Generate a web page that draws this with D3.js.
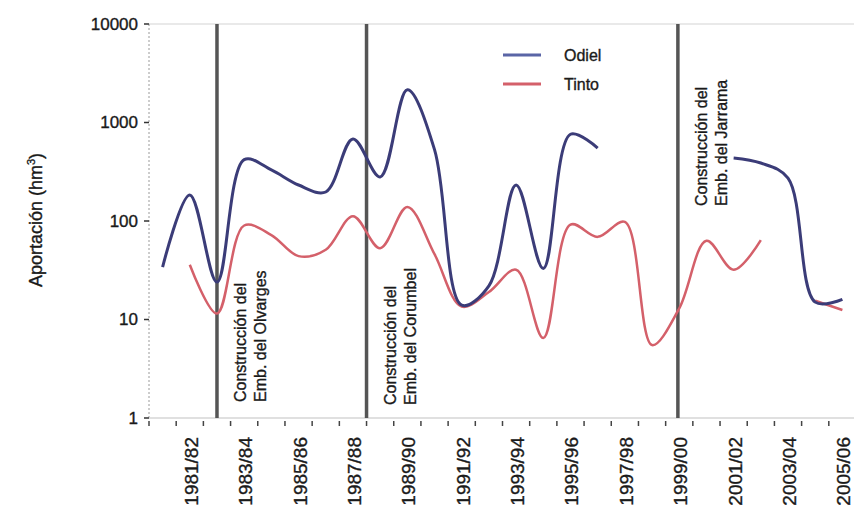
<!DOCTYPE html>
<html>
<head>
<meta charset="utf-8">
<script src="https://cdn.jsdelivr.net/npm/d3@7"></script>
<style>
  body { margin: 0; background: #fff; }
  svg { font-family: "Liberation Sans", Arial, sans-serif; }
  svg text { stroke: #1a1a1a; stroke-width: 0.35px; }
</style>
</head>
<body>
<div id="chart"></div>
<script>
// Aportaciones anuales Odiel / Tinto (hm3), escala logarítmica.

const years = ['1980/81', '1981/82', '1982/83', '1983/84', '1984/85', '1985/86', '1986/87',
  '1987/88', '1988/89', '1989/90', '1990/91', '1991/92', '1992/93', '1993/94', '1994/95',
  '1995/96', '1996/97', '1997/98', '1998/99', '1999/00', '2000/01', '2001/02', '2002/03',
  '2003/04', '2004/05', '2005/06'];

const odiel = [34, 184, 24, 420, 330, 232, 197, 680, 280, 2150, 530, 14, 22, 232, 33,
  760, 550, null, null, null, null, 437, 388, 272, 15, 16];

const tinto = [null, 36, 11.5, 90, 72, 44, 51, 112, 53, 139, 46, 13.5, 19, 32, 6.5,
  92, 69, 98, 5.5, 13, 63, 32, 64, null, 15.5, 12.5];

const yTicks = [1, 10, 100, 1000, 10000];

// Construcción de embalses: posición en unidades de categoría.
const dams = [
  { at: 2.5, lines: ['Construcción del', 'Emb. del Olvarges'], y: 402 },
  { at: 8.0, lines: ['Construcción del', 'Emb. del Corumbel'], y: 405 },
  { at: 19.45, lines: ['Construcción del', 'Emb. del Jarrama'], y: 206 }
];

const width = 854, height = 517;
const plotLeft = 149, plotTop = 24, plotBottom = 418, plotRight = 856;

const svg = d3.select('#chart').append('svg')
  .attr('width', width)
  .attr('height', height);

const x = d3.scaleLinear().domain([0, years.length]).range([plotLeft, plotRight]);
const y = d3.scaleLog().domain([1, 10000]).range([plotBottom, plotTop]);

// Plot frame (top border and axes).
svg.append('line')
  .attr('x1', plotLeft).attr('x2', plotRight).attr('y1', plotTop).attr('y2', plotTop)
  .attr('stroke', '#e2e2e2').attr('stroke-width', 1.5);

svg.append('line')
  .attr('x1', plotLeft).attr('x2', plotLeft).attr('y1', plotTop).attr('y2', plotBottom)
  .attr('stroke', '#9a9a9a').attr('stroke-width', 1)
  .attr('stroke-dasharray', '2,2');

svg.append('line')
  .attr('x1', plotLeft).attr('x2', plotRight).attr('y1', plotBottom).attr('y2', plotBottom)
  .attr('stroke', '#d6d6d6').attr('stroke-width', 1.5);

// Y axis ticks and labels.
const yAxis = svg.append('g');
yAxis.selectAll('line')
  .data(yTicks)
  .enter()
  .append('line')
  .attr('x1', plotLeft - 5).attr('x2', plotLeft)
  .attr('y1', d => y(d)).attr('y2', d => y(d))
  .attr('stroke', '#333').attr('stroke-width', 1.5);

yAxis.selectAll('text')
  .data(yTicks)
  .enter()
  .append('text')
  .attr('x', 138)
  .attr('y', d => y(d))
  .attr('dy', '0.35em')
  .attr('text-anchor', 'end')
  .attr('font-size', 17)
  .attr('fill', '#1a1a1a')
  .text(d => d);

// X axis ticks (between categories) and labels every two years.
svg.append('g').selectAll('line')
  .data(d3.range(0, years.length + 1))
  .enter()
  .append('line')
  .attr('x1', d => x(d)).attr('x2', d => x(d))
  .attr('y1', plotBottom + 3).attr('y2', plotBottom + 8)
  .attr('stroke', '#444').attr('stroke-width', 1.5);

svg.append('g').selectAll('text')
  .data(years.filter((d, i) => i % 2 === 1))
  .enter()
  .append('text')
  .attr('transform', d => `translate(${x(years.indexOf(d) + 0.5) + 8},437) rotate(-90)`)
  .attr('text-anchor', 'end')
  .attr('font-size', 19)
  .attr('fill', '#1a1a1a')
  .text(d => d);

// Y axis title.
const yTitle = svg.append('text')
  .attr('transform', 'translate(42,220) rotate(-90)')
  .attr('text-anchor', 'middle')
  .attr('font-size', 18)
  .attr('fill', '#1a1a1a');
yTitle.append('tspan').text('Aportación (hm');
yTitle.append('tspan').attr('font-size', 11).attr('dy', -7).text('3');
yTitle.append('tspan').attr('dy', 7).text(')');

// Dam construction lines.
svg.append('g').selectAll('line')
  .data(dams)
  .enter()
  .append('line')
  .attr('x1', d => x(d.at)).attr('x2', d => x(d.at))
  .attr('y1', plotTop).attr('y2', plotBottom)
  .attr('stroke', '#555').attr('stroke-width', 3.5);

dams.forEach(d => {
  d.lines.forEach((t, i) => {
    svg.append('text')
      .attr('transform', `translate(${x(d.at) + 29 + i * 20},${d.y}) rotate(-90)`)
      .attr('font-size', 16)
      .attr('fill', '#1a1a1a')
      .text(t);
  });
});

// Series lines.
const line = d3.line()
  .defined(d => d != null)
  .x((d, i) => x(i + 0.5))
  .y(d => y(d))
  .curve(d3.curveCatmullRom.alpha(0.5));

svg.append('path')
  .datum(tinto)
  .attr('d', line)
  .attr('fill', 'none')
  .attr('stroke', '#d4606a')
  .attr('stroke-width', 2.5);

svg.append('path')
  .datum(odiel)
  .attr('d', line)
  .attr('fill', 'none')
  .attr('stroke', '#3b3c78')
  .attr('stroke-width', 3);

// Legend.
const legend = [
  { name: 'Odiel', color: '#5a65a6', y: 55 },
  { name: 'Tinto', color: '#d4606a', y: 84 }
];
const lg = svg.append('g').selectAll('g')
  .data(legend)
  .enter()
  .append('g');
lg.append('line')
  .attr('x1', 503).attr('x2', 541)
  .attr('y1', d => d.y).attr('y2', d => d.y)
  .attr('stroke', d => d.color).attr('stroke-width', 3);
lg.append('text')
  .attr('x', 564)
  .attr('y', d => d.y)
  .attr('dy', '0.35em')
  .attr('font-size', 16)
  .attr('fill', '#1a1a1a')
  .text(d => d.name);
</script>
</body>
</html>
